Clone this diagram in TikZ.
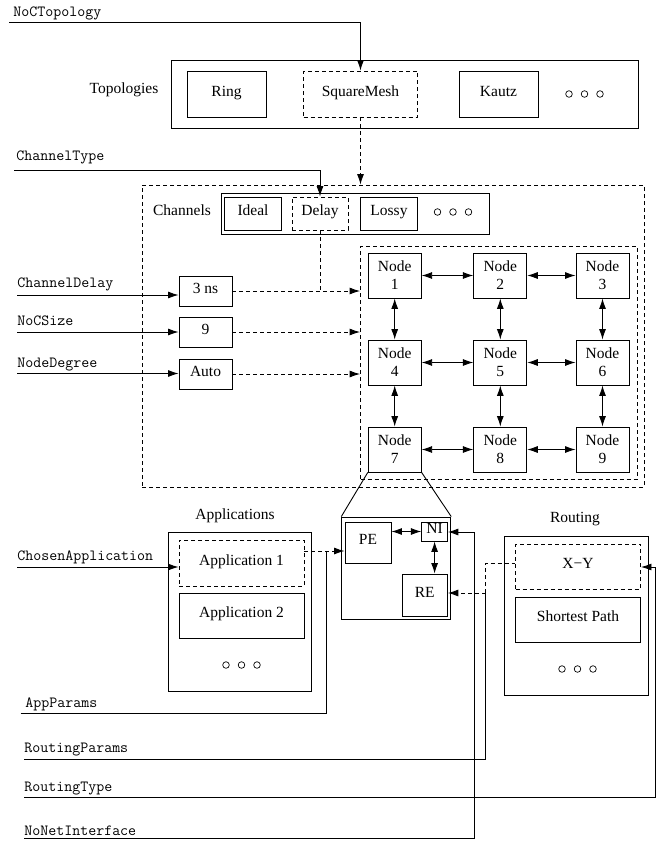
\documentclass[tikz,border=0pt]{standalone}
\usepackage{fontspec}
\setmainfont{Liberation Serif}
\usetikzlibrary{arrows.meta}
\newcommand\mydots[2]{%
  \draw[line width=0.7pt] (#1-15.5,#2) circle[radius=3.3pt] (#1,#2) circle[radius=3.3pt] (#1+15.5,#2) circle[radius=3.3pt];}
\begin{document}
\begin{tikzpicture}[x=1pt,y=-1pt,line width=0.9pt,
  font=\fontsize{15.5}{18}\selectfont,
  box/.style={draw,inner sep=0pt,text height=0.7em,text depth=0.22em},
  frame/.style={draw,inner sep=0pt},
  gnode/.style={draw,inner sep=0pt,align=center,minimum width=53pt,minimum height=45pt},
  lab/.style={inner sep=0pt,text height=0.7em,text depth=0.22em},
  ttlab/.style={inner sep=0pt,anchor=base west,font=\fontsize{15.5}{18}\selectfont\ttfamily},
  dsh/.style={dash pattern=on 4pt off 3pt},
  arr/.style={-{Latex[length=10.5pt,width=7pt]}},
  dbl/.style={{Latex[length=10.5pt,width=7pt]}-{Latex[length=10.5pt,width=7pt]}},
]
\useasboundingbox (0,0) rectangle (668,844);

% ---------- Topologies ----------
\node[ttlab] (tNoC) at (13,16) {NoCTopology};
\coordinate (sNoC) at (9,22.3);
\node[frame,minimum width=467pt,minimum height=68pt] (topo) at (404.5,94) {};
\node[lab] (topolab) at (124,91) {Topologies};
\node[box,minimum width=79pt,minimum height=46pt] (ring) at (226.5,94) {Ring};
\node[box,dsh,minimum width=114pt,minimum height=46pt] (sq) at (360.5,94) {SquareMesh};
\node[box,minimum width=79pt,minimum height=46pt] (kautz) at (498.5,94) {Kautz};
\mydots{584.5}{94}
\draw[arr] (sNoC) -| (sq.north);

% ---------- Channels ----------
\node[frame,dsh,minimum width=502pt,minimum height=302pt] (chout) at (393,336) {};
\draw[arr,dsh] (sq.south) -- (sq.south |- chout.north);

\node[ttlab] (tCT) at (16,160) {ChannelType};
\coordinate (sCT) at (14,170);
\node[frame,minimum width=268pt,minimum height=41pt] (chbox) at (355,213.5) {};
\node[lab] (chlab) at (182,213.5) {Channels};
\node[box,minimum width=57pt,minimum height=33pt] (ideal) at (253,213.5) {Ideal};
\node[box,dsh,minimum width=56pt,minimum height=33pt] (delay) at (320,213.5) {Delay};
\node[box,minimum width=56.5pt,minimum height=33pt] (lossy) at (389,213.5) {Lossy};
\mydots{453}{212}
\draw[arr] (sCT) -| (delay.north);

% ---------- mesh ----------
\node[frame,dsh,minimum width=276.5pt,minimum height=233pt] (grid) at (498.75,362.5) {};
\node[gnode] (n1) at (394.7,275.5) {Node\\1};
\node[gnode] (n2) at (500.3,275.5) {Node\\2};
\node[gnode] (n3) at (602.5,275.5) {Node\\3};
\node[gnode] (n4) at (394.7,362.5) {Node\\4};
\node[gnode] (n5) at (500.3,362.5) {Node\\5};
\node[gnode] (n6) at (602.5,362.5) {Node\\6};
\node[gnode] (n7) at (394.7,449.5) {Node\\7};
\node[gnode] (n8) at (500.3,449.5) {Node\\8};
\node[gnode] (n9) at (602.5,449.5) {Node\\9};
\draw[dbl] (n1) -- (n2);
\draw[dbl] (n2) -- (n3);
\draw[dbl] (n4) -- (n5);
\draw[dbl] (n5) -- (n6);
\draw[dbl] (n7) -- (n8);
\draw[dbl] (n8) -- (n9);
\draw[dbl] (n1) -- (n4);
\draw[dbl] (n4) -- (n7);
\draw[dbl] (n2) -- (n5);
\draw[dbl] (n5) -- (n8);
\draw[dbl] (n3) -- (n6);
\draw[dbl] (n6) -- (n9);

% ---------- parameters ----------
\node[ttlab] (tCD) at (17,287.5) {ChannelDelay};
\coordinate (sCD) at (17,295);
\node[ttlab] (tNS) at (17,325.5) {NoCSize};
\coordinate (sNS) at (17,332);
\node[ttlab] (tND) at (17,367) {NodeDegree};
\coordinate (sND) at (17,373.5);
\node[box,minimum width=53pt,minimum height=30pt] (tns) at (205.5,291) {3 ns};
\node[box,minimum width=53pt,minimum height=30pt] (nine) at (205.5,332) {9};
\node[box,minimum width=53pt,minimum height=30pt] (auto) at (205.5,374) {Auto};
\draw[arr] (sCD) -- (sCD -| tns.west);
\draw[arr] (sNS) -- (sNS -| nine.west);
\draw[arr] (sND) -- (sND -| auto.west);
\draw[arr,dsh] (tns.east) -- (tns.east -| grid.west);
\draw[arr,dsh] (nine.east) -- (nine.east -| grid.west);
\draw[arr,dsh] (auto.east) -- (auto.east -| grid.west);
\draw[dsh] (delay.south) -- (delay.south |- tns.east);

% ---------- zoomed node ----------
\node[frame,minimum width=109pt,minimum height=102pt] (zb) at (396.25,568) {};
\draw (n7.south west) -- (zb.north west);
\draw (n7.south east) -- (zb.north east);
\node[box,minimum width=46pt,minimum height=41pt] (pe) at (368,542.5) {PE};
\node[box,minimum width=25.6pt,minimum height=19pt] (ni) at (434.6,531.5) {NI};
\node[box,minimum width=45.4pt,minimum height=42pt] (re) at (424.7,595) {RE};
\draw[dbl] (ni.west -| pe.east) -- (ni.west);
\draw[dbl] (ni.south) -- (ni.south |- re.north);

% ---------- Applications ----------
\node[lab] (applab) at (235,517) {Applications};
\node[frame,minimum width=143pt,minimum height=159pt] (appbox) at (239.5,611.5) {};
\node[box,dsh,minimum width=125pt,minimum height=46pt] (app1) at (241.5,563) {Application 1};
\node[box,minimum width=125pt,minimum height=45pt] (app2) at (241.5,615.5) {Application 2};
\mydots{241.5}{665}
\node[ttlab] (tCA) at (17,560) {ChosenApplication};
\coordinate (sCA) at (17,567);
\draw[arr] (sCA) -- (sCA -| app1.west);
\coordinate (j1) at (326.4,551);
\draw[arr,dsh] (app1.east |- j1) -- (pe.west |- j1);
\node[ttlab] (tAP) at (25,707) {AppParams};
\coordinate (sAP) at (20.7,713);
\draw (sAP) -| (j1);

% ---------- Routing ----------
\node[lab] (routlab) at (575,520) {Routing};
\node[frame,minimum width=144pt,minimum height=159pt] (routbox) at (576,615.5) {};
\node[box,dsh,minimum width=125pt,minimum height=45pt] (xy) at (578,566.5) {X−Y};
\node[box,minimum width=125pt,minimum height=45pt] (sp) at (578,619.5) {Shortest Path};
\mydots{577.5}{669}

\node[ttlab] (tRP) at (24,752.5) {RoutingParams};
\coordinate (sRP) at (24,759);
\node[ttlab] (tRT) at (24,791) {RoutingType};
\coordinate (sRT) at (24,797);
\node[ttlab] (tNN) at (24,835) {NoNetInterface};
\coordinate (sNN) at (24,838);

\coordinate (k1) at (474,532);
\draw[arr] (sNN) -| (k1) -- (k1 -| ni.east);
\coordinate (k2) at (485.7,593);
\coordinate (k3) at (485.7,563);
\draw (sRP) -| (k2);
\draw[arr,dsh] (k2) -- (k2 -| re.east);
\draw[dsh] (k2) -- (k3) -- (k3 -| xy.west);
\coordinate (k4) at (655.3,567);
\draw[arr] (sRT) -| (k4) -- (k4 -| xy.east);
\end{tikzpicture}
\end{document}
